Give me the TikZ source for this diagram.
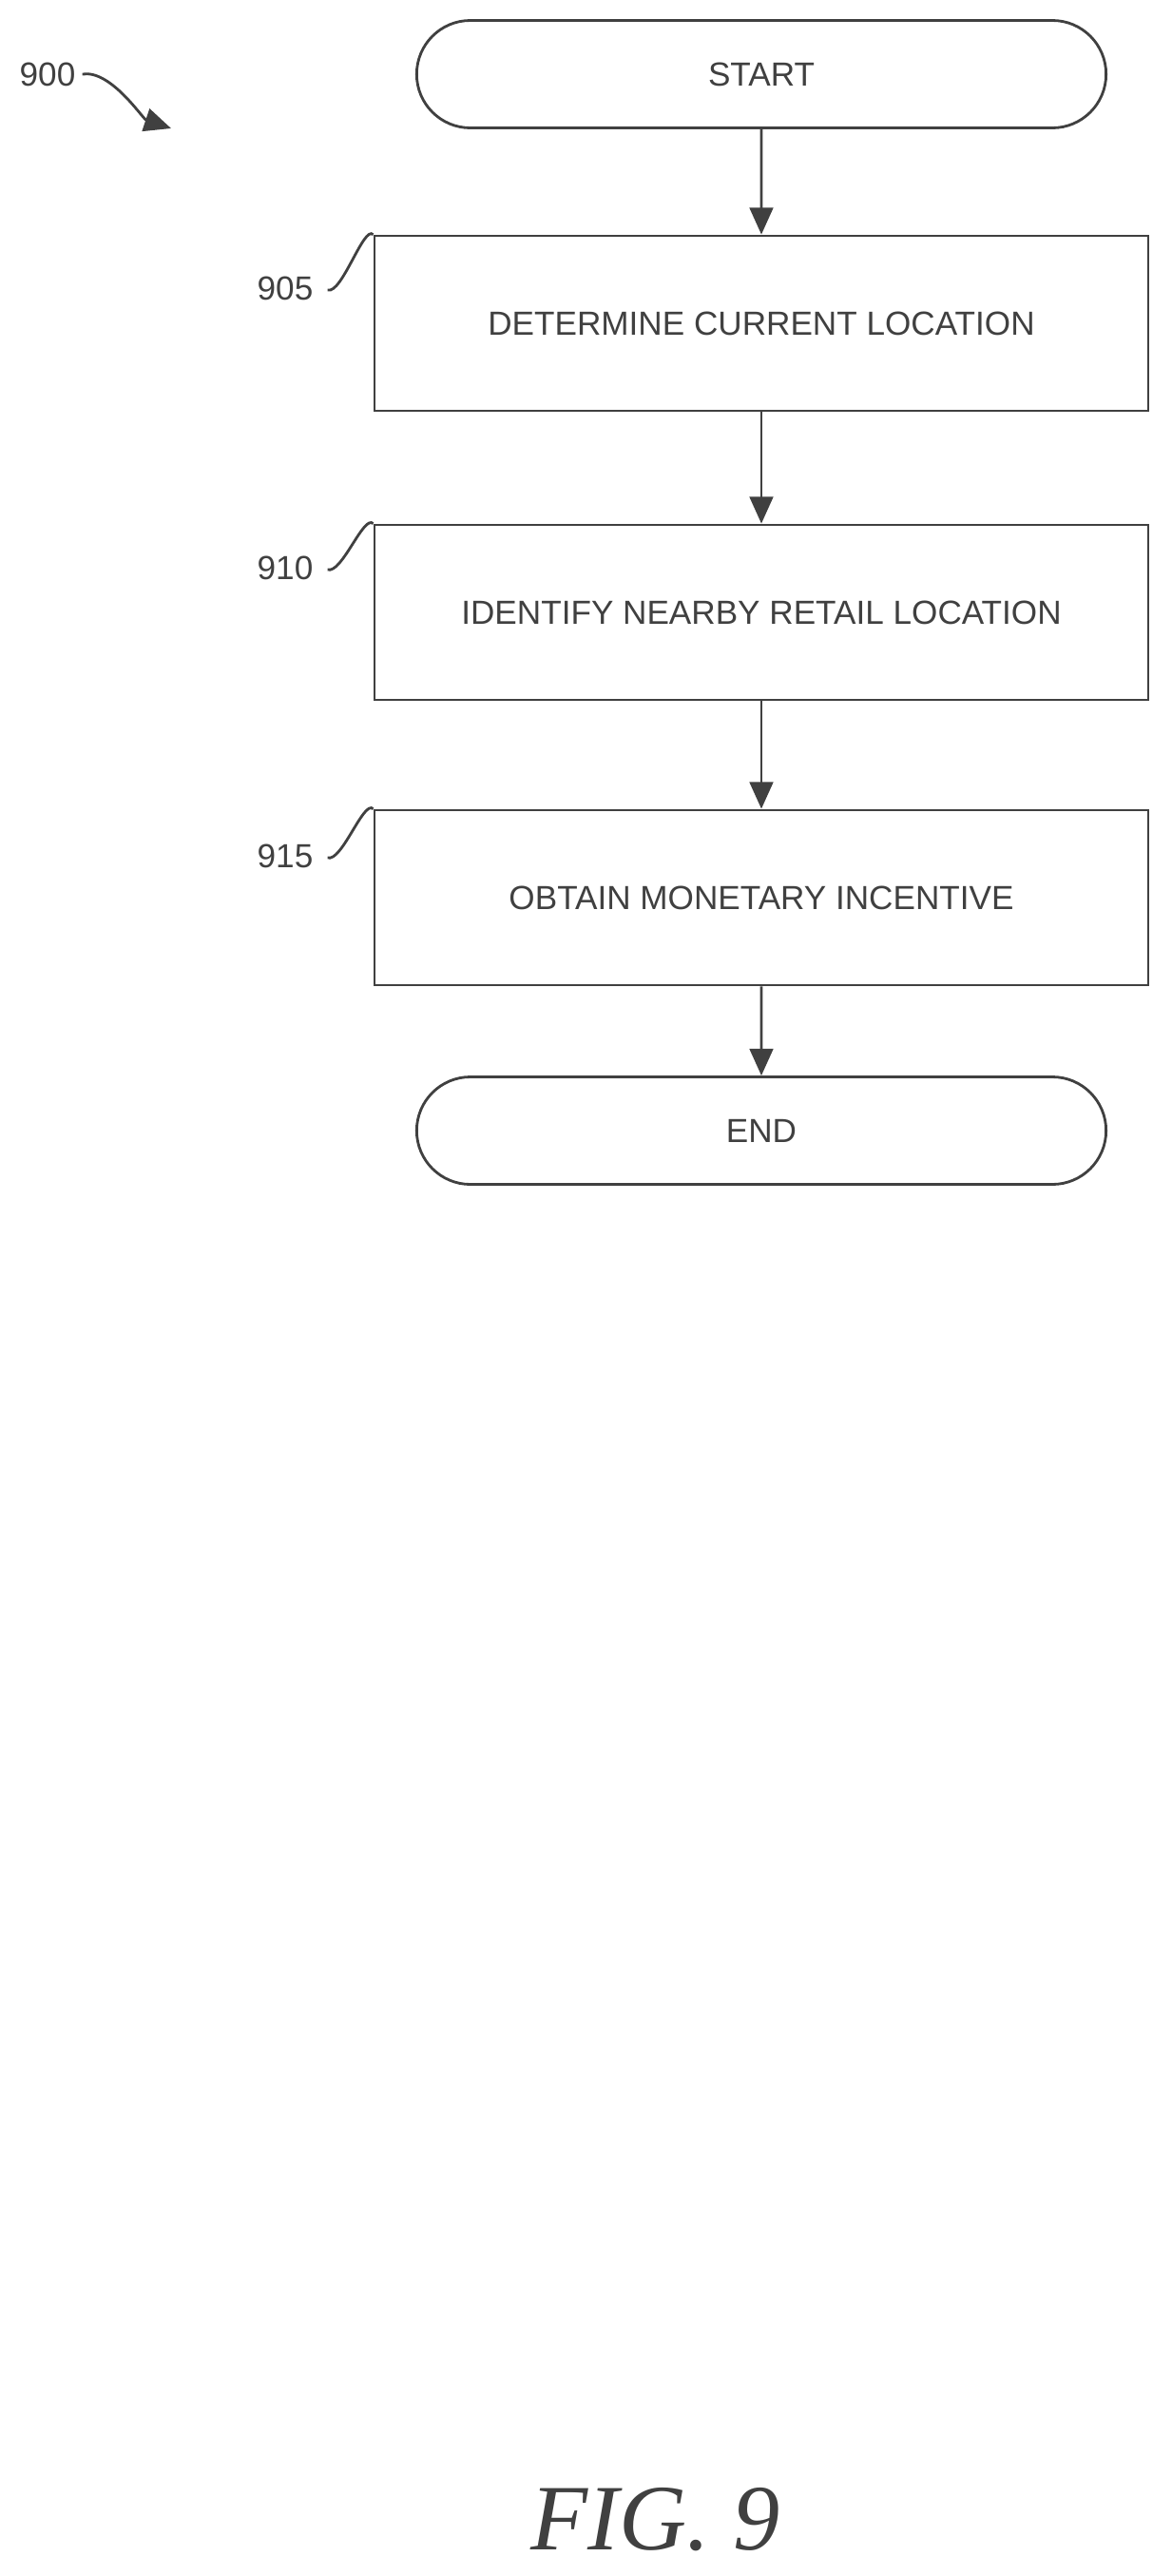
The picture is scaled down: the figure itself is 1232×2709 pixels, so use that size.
\documentclass[tikz,border=0pt]{standalone}
\usepackage{fontspec}
\setmainfont{Liberation Sans}
\newfontfamily\figfont{Liberation Serif}
\usetikzlibrary{arrows.meta,shapes.misc}
\begin{document}
\begin{tikzpicture}[x=0.02cm,y=-0.02cm,
  line width=1.6pt, draw=black!75,
  box/.style={draw, minimum width=814*0.02cm, minimum height=184*0.02cm, font=\fontsize{20}{24}\selectfont\color{black!75}},
  term/.style={draw, rounded rectangle, minimum width=737*0.02cm, minimum height=113*0.02cm, font=\fontsize{20}{24}\selectfont\color{black!75}},
  arr/.style={-{Triangle[width=14pt,length=16pt]}, line width=1.6pt, draw=black!75},
  lbl/.style={font=\fontsize{20}{24}\selectfont\color{black!75}}]
\useasboundingbox (0,0) rectangle (1232,2709);
\node[term] (s) at (801,78) {START};
\node[box] (b1) at (801,340) {DETERMINE CURRENT LOCATION};
\node[box] (b2) at (801,644) {IDENTIFY NEARBY RETAIL LOCATION};
\node[box] (b3) at (801,944) {OBTAIN MONETARY INCENTIVE};
\node[term] (e) at (801,1189) {END};
\draw[arr] (s) -- (b1);
\draw[arr] (b1) -- (b2);
\draw[arr] (b2) -- (b3);
\draw[arr] (b3) -- (e);
\node[lbl] (l905) at (300,303) {905};
\node[lbl] (l910) at (300,597) {910};
\node[lbl] (l915) at (300,900) {915};
\draw (l905.east) ++(8,2) .. controls +(15,5) and +(-10,-10) .. (b1.north west);
\draw (l910.east) ++(8,2) .. controls +(15,5) and +(-10,-10) .. (b2.north west);
\draw (l915.east) ++(8,2) .. controls +(15,5) and +(-10,-10) .. (b3.north west);
\node[lbl] (l900) at (50,78) {900};
\coordinate (t900) at (180,135);
\draw[arr] (l900.east) .. controls +(30,-5) and +(-30,-10) .. (t900);
\node[font=\figfont\itshape\fontsize{56}{60}\selectfont\color{black!75}] (fig) at (690,2650) {FIG. 9};
\end{tikzpicture}
\end{document}
